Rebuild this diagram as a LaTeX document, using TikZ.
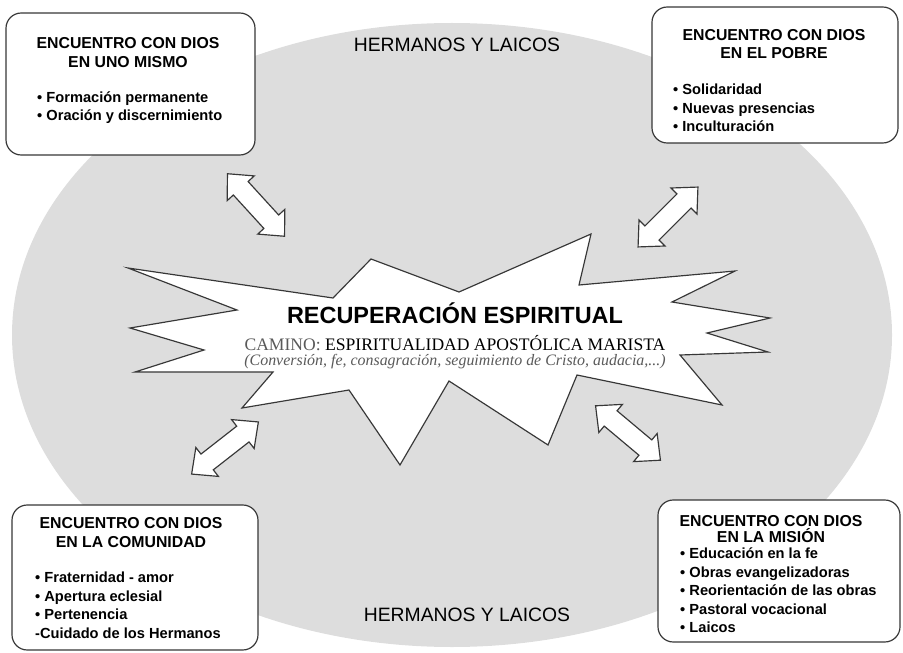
\documentclass[tikz,border=0pt]{standalone}
\usepackage{fontspec}
\setmainfont{Liberation Serif}
\setsansfont{Liberation Sans}
\usetikzlibrary{shapes, arrows.meta, positioning, calc}
\definecolor{ovalgray}{RGB}{221, 221, 221}
\definecolor{edgegray}{RGB}{55, 55, 55}
\definecolor{softgray}{RGB}{90, 90, 90}

\tikzset{pics/twoway/.style={code={
  \draw[edgegray, fill=white, line width=1pt, line join=miter]
    (-1.27cm,0) -- (-0.68cm,0.55cm) -- (-0.68cm,0.3cm) -- (0.68cm,0.3cm) -- (0.68cm,0.55cm)
    -- (1.27cm,0) -- (0.68cm,-0.55cm) -- (0.68cm,-0.3cm) -- (-0.68cm,-0.3cm) -- (-0.68cm,-0.55cm) -- cycle;
}}}

\begin{document}
\begin{tikzpicture}[x=0.03cm, y=-0.03cm,
  encbox/.style={draw=edgegray, fill=white, line width=1pt, rounded corners=13pt},
  enctitle/.style={font=\sffamily\bfseries\fontsize{13.5}{16}\selectfont, align=center, inner sep=0pt},
  enclist/.style={font=\sffamily\bfseries\fontsize{12.5}{15.8}\selectfont, align=left, inner sep=0pt, anchor=west},
  laicos/.style={font=\sffamily\fontsize{16.5}{19}\selectfont, inner sep=0pt, anchor=base}]
  \useasboundingbox (0,0) rectangle (903,653);

  % oval
  \fill[ovalgray] (452,335) ellipse [x radius=440, y radius=312];

  \node[laicos] (laicostop) at (457,52) {HERMANOS Y LAICOS};
  \node[laicos] (laicosbot) at (467,621) {HERMANOS Y LAICOS};

  % burst
  \draw[edgegray, fill=white, line width=1pt, line join=miter]
    (371,259) -- (459,292) -- (591,234) -- (579,285) -- (735,271) -- (672,302)
    -- (770,318) -- (707,333) -- (768,352) -- (680,355) -- (722,405) -- (577,375)
    -- (548,445) -- (449,381) -- (400,465) -- (349,390) -- (242,408) -- (273,372)
    -- (135,372) -- (204,350) -- (130,328) -- (237,310) -- (128,268) -- (333,298) -- cycle;

  \node[font=\sffamily\bfseries\fontsize{20}{24}\selectfont, inner sep=0pt, anchor=base] (recup) at (455,323) {RECUPERACIÓN ESPIRITUAL};
  \node[font=\fontsize{15}{18}\selectfont, inner sep=0pt, anchor=base] (camino) at (455,350) {\textcolor{softgray}{CAMINO:} ESPIRITUALIDAD APOSTÓLICA MARISTA};
  \node[font=\itshape\fontsize{13.6}{15}\selectfont, text=softgray, inner sep=0pt, anchor=base] (virtudes) at (455,365) {(Conversión, fe, consagración, seguimiento de Cristo, audacia,...)};

  % arrows
  \pic[rotate=-47.6] (arrtl) at (256,205) {twoway};
  \pic[rotate=45] (arrtr) at (668,217) {twoway};
  \pic[rotate=38] (arrbl) at (225,448) {twoway};
  \pic[rotate=-40] (arrbr) at (628,433) {twoway};

  % uno mismo
  \draw[encbox] (6,13) rectangle (255,155);
  \node[enctitle] (tltitle) at (128,52.5) {ENCUENTRO CON DIOS\\EN UNO MISMO};
  \node[enclist] (tllist) at (37,107.5) {• Formación permanente\\• Oración y discernimiento};

  % pobre
  \draw[encbox] (652,7) rectangle (898,143);
  \node[enctitle] (trtitle) at (774,44) {ENCUENTRO CON DIOS\\EN EL POBRE};
  \node[enclist] (trlist) at (673,108) {• Solidaridad\\• Nuevas presencias\\• Inculturación};

  % comunidad
  \draw[encbox] (12,505) rectangle (258,650);
  \node[enctitle] (bltitle) at (131,532.5) {ENCUENTRO CON DIOS\\EN LA COMUNIDAD};
  \node[enclist] (bllist) at (35,605.5) {• Fraternidad - amor\\• Apertura eclesial\\• Pertenencia\\-Cuidado de los Hermanos};

  % mision
  \draw[encbox] (658,500) rectangle (900,642);
  \node[enctitle, font=\sffamily\bfseries\fontsize{13.5}{13.5}\selectfont] (brtitle) at (771,529) {ENCUENTRO CON DIOS\\EN LA MISIÓN};
  \node[enclist] (brlist) at (680,590.5) {• Educación en la fe\\• Obras evangelizadoras\\• Reorientación de las obras\\• Pastoral vocacional\\• Laicos};
\end{tikzpicture}
\end{document}
